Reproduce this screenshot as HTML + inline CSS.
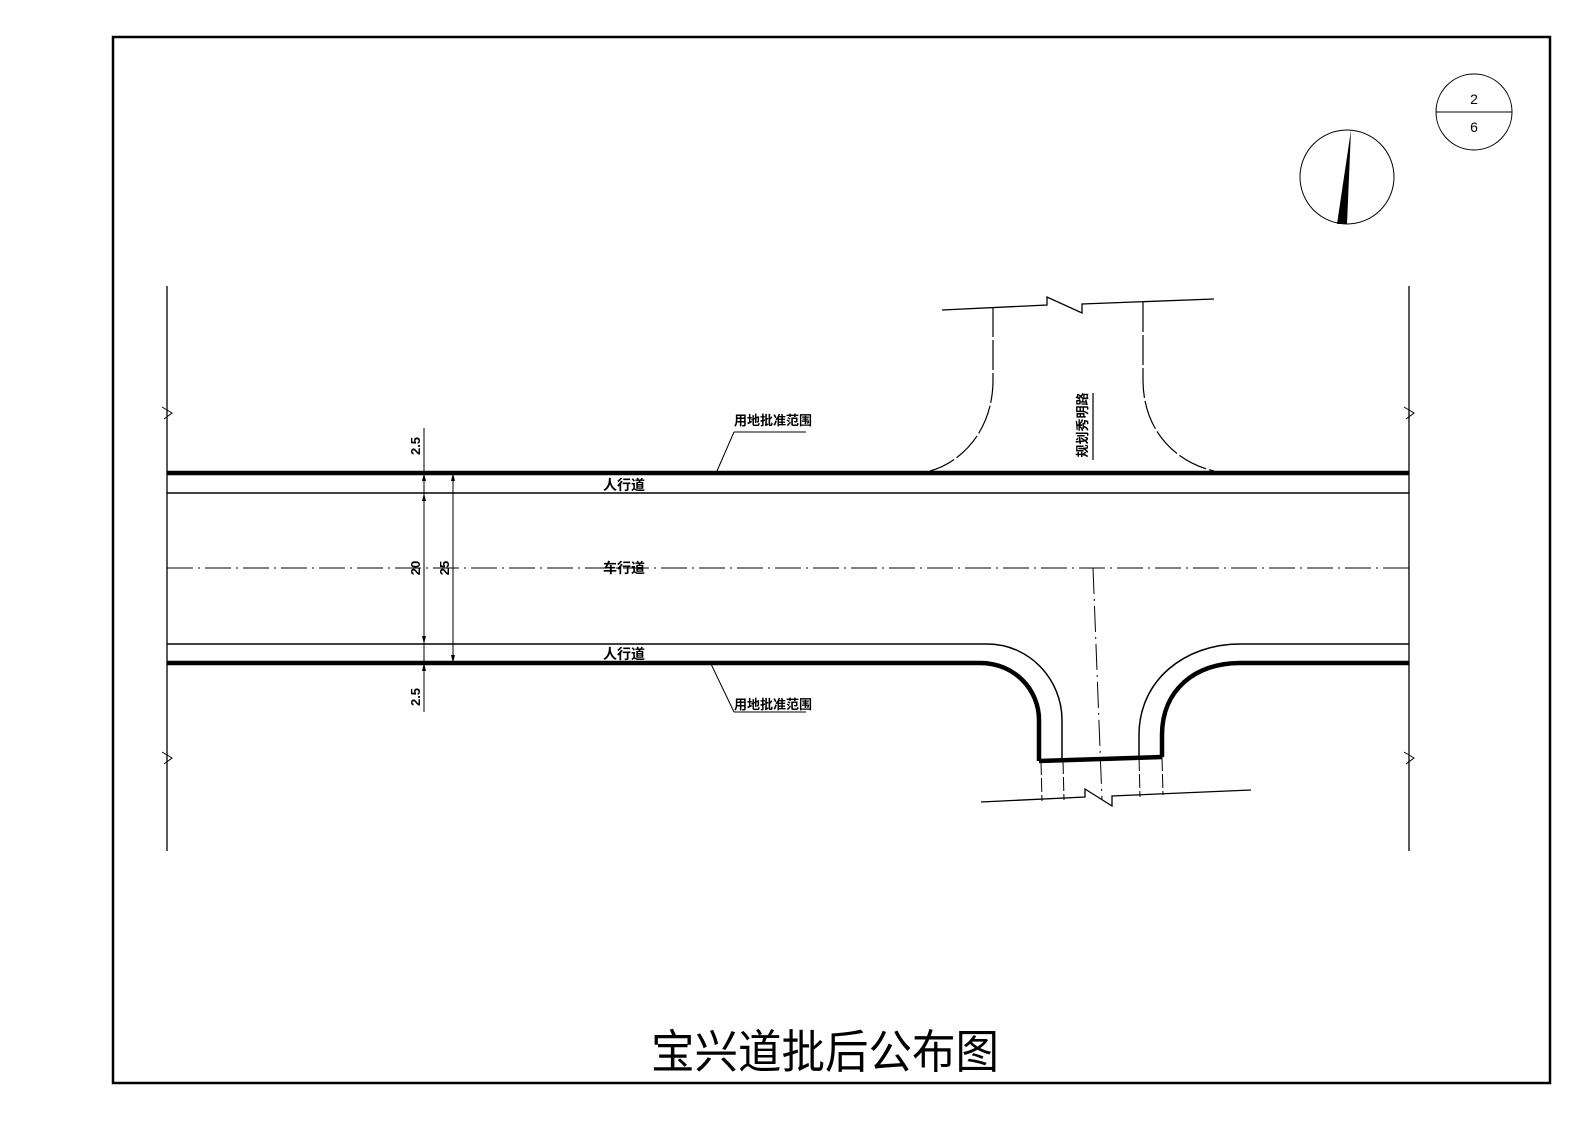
<!DOCTYPE html>
<html><head><meta charset="utf-8"><style>
html,body{margin:0;padding:0;background:#fff;}
svg{display:block}
text{font-family:"Liberation Sans","Noto Sans CJK SC",sans-serif;}
.cjk{font-family:"Noto Sans CJK SC","WenQuanYi Zen Hei",sans-serif;font-weight:bold;}
</style></head><body>
<svg width="1588" height="1122" viewBox="0 0 1588 1122" xmlns="http://www.w3.org/2000/svg">
<rect x="0" y="0" width="1588" height="1122" fill="#fff"/>
<rect x="113" y="37" width="1437" height="1046" fill="none" stroke="#000" stroke-width="2.5"/>

<!-- sheet circle -->
<circle cx="1474" cy="112" r="38" fill="none" stroke="#000" stroke-width="1"/>
<line x1="1436" y1="112" x2="1512" y2="112" stroke="#000" stroke-width="1"/>
<text x="1474" y="104" font-size="14" text-anchor="middle">2</text>
<text x="1474" y="132" font-size="14" text-anchor="middle">6</text>

<!-- compass -->
<circle cx="1347" cy="177" r="47" fill="none" stroke="#000" stroke-width="1"/>
<polygon points="1351,130 1337,224 1347,224" fill="#000"/>

<!-- side vertical lines -->
<line x1="167" y1="286" x2="167" y2="851" stroke="#000" stroke-width="1.3"/>
<line x1="1409" y1="286" x2="1409" y2="851" stroke="#000" stroke-width="1.3"/>
<g stroke="#000" stroke-width="1" fill="none">
<path d="M162,407 L172,413 L164,419"/><path d="M1404,407 L1414,413 L1406,419"/>
<path d="M162,752 L172,758 L164,764"/><path d="M1404,752 L1414,758 L1406,764"/>
</g>

<!-- main road -->
<line x1="167" y1="473" x2="1409" y2="473" stroke="#000" stroke-width="4.5"/>
<line x1="167" y1="493" x2="1409" y2="493" stroke="#000" stroke-width="1.5"/>
<line x1="167" y1="568" x2="1409" y2="568" stroke="#000" stroke-width="1" stroke-dasharray="26,5,2,5"/>

<g fill="none" stroke="#000">
<path d="M167,644 L987,644 C1030,644 1062,680 1062,720 L1062,760" stroke-width="1.5"/>
<path d="M167,663 L980,663 C1015,663 1039,690 1039,720 L1039,761" stroke-width="4.5"/>
<path d="M1409,644 L1240,644 C1185,644 1139,680 1139,735 L1139,757" stroke-width="1.5"/>
<path d="M1409,663 L1240,663 C1195,663 1162,690 1162,735 L1162,757" stroke-width="4.5"/>
<line x1="1039" y1="761" x2="1162" y2="757" stroke-width="4.5"/>
<!-- extension lines -->
<g stroke-width="1" stroke-dasharray="14,3">
<line x1="1041" y1="761" x2="1042" y2="801"/><line x1="1063" y1="760" x2="1064" y2="800"/>
<line x1="1139" y1="757" x2="1140" y2="797"/><line x1="1162" y1="757" x2="1163" y2="795"/>
</g>
<line x1="1093" y1="568" x2="1102" y2="800" stroke-width="1" stroke-dasharray="26,5,2,5"/>
<path d="M981,802 L1085,797 L1085,789 L1112,806 L1112,796 L1251,790" stroke-width="1.3"/>

<!-- top side road -->
<path d="M942,310 L1047,305 L1047,297 L1082,313 L1082,304 L1214,299" stroke-width="1.3"/>
<path d="M993,307 L993,380 C993,430 962,462 930,471" stroke-width="1.2" stroke-dasharray="30,3"/>
<path d="M1143,302 L1143,380 C1143,430 1175,462 1214,471" stroke-width="1.2" stroke-dasharray="30,3"/>
<line x1="1093" y1="393" x2="1093" y2="460" stroke-width="1.2"/>

<!-- dimensions -->
<line x1="424" y1="428" x2="424" y2="712" stroke-width="1"/>
<line x1="453" y1="481" x2="453" y2="663" stroke-width="1"/>
<line x1="717" y1="471" x2="734" y2="432" stroke-width="1"/>
<line x1="734" y1="432" x2="806" y2="432" stroke-width="1"/>
<line x1="711" y1="664" x2="734" y2="712" stroke-width="1"/>
<line x1="734" y1="712" x2="806" y2="712" stroke-width="1"/>
</g>
<g fill="#000">
<polygon points="424,473 422,481 426,481"/><polygon points="424,493 422,501 426,501"/>
<polygon points="424,644 422,636 426,636"/><polygon points="424,663 422,671 426,671"/>
<polygon points="453,473 451,481 455,481"/><polygon points="453,663 451,655 455,655"/>
</g>
<g font-size="13" font-weight="bold">
<text transform="translate(420,446) rotate(-90)" text-anchor="middle">2.5</text>
<text transform="translate(420,568) rotate(-90)" text-anchor="middle">20</text>
<text transform="translate(449,568) rotate(-90)" text-anchor="middle">25</text>
<text transform="translate(420,697) rotate(-90)" text-anchor="middle">2.5</text>
</g>

<g class="cjk" font-size="13">
<text x="734" y="425">用地批准范围</text>
<text x="734" y="709">用地批准范围</text>
<text transform="translate(1087,425) rotate(-90)" text-anchor="middle">规划秀明路</text>
</g>
<g class="cjk" font-size="14">
<text x="603" y="490">人行道</text>
<text x="603" y="573">车行道</text>
<text x="603" y="659">人行道</text>
</g>

<text x="651" y="1068" font-size="46" textLength="348" lengthAdjust="spacingAndGlyphs" style='font-family:"Noto Sans CJK SC","WenQuanYi Zen Hei",sans-serif;'>宝兴道批后公布图</text>
</svg>
</body></html>
